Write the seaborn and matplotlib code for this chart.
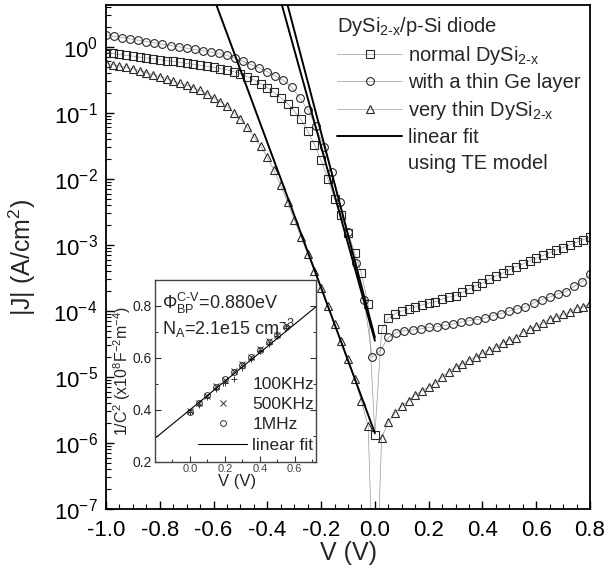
import numpy as np
import pandas as pd
import matplotlib
matplotlib.use("Agg")
import matplotlib.pyplot as plt
import seaborn as sns
from matplotlib.ticker import (LogLocator, MultipleLocator, NullFormatter, FixedLocator,
                               LogFormatterMathtext, FormatStrFormatter)
from matplotlib.lines import Line2D

# ---------------- data ----------------
# bias sweeps (V)
v_sweep_a = np.round(np.arange(-1.0, 0.8 + 1e-9, 0.025), 3)   # normal & very thin
v_sweep_b = np.round(np.arange(-1.0, 0.8 + 1e-9, 0.03), 3)    # thin Ge layer

# log10 |J| (A/cm^2)
logj_normal = [-0.09, -0.10, -0.115, -0.13, -0.14, -0.155, -0.17, -0.18, -0.195, -0.21,
               -0.22, -0.235, -0.25, -0.265, -0.28, -0.295, -0.31, -0.33, -0.35, -0.375,
               -0.41, -0.45, -0.50, -0.56, -0.62, -0.69, -0.77, -0.86, -0.97, -1.10,
               -1.27, -1.48, -1.72, -2.00, -2.30, -2.55, -2.82, -3.12, -3.43, -3.90,
               -5.88,
               -4.28, -4.11, -4.04, -4.00, -3.97, -3.94, -3.91, -3.88, -3.86, -3.82,
               -3.79, -3.77, -3.72, -3.67, -3.62, -3.58, -3.52, -3.47, -3.43, -3.38,
               -3.33, -3.29, -3.24, -3.20, -3.16, -3.12, -3.08, -3.04, -3.00, -2.96,
               -2.92, -2.88]
logj_ge = [0.18, 0.16, 0.14, 0.12, 0.10, 0.08, 0.06, 0.04, 0.02, 0.00,
           -0.02, -0.04, -0.06, -0.08, -0.10, -0.13, -0.17, -0.22, -0.27, -0.32,
           -0.38, -0.44, -0.51, -0.61, -0.77, -0.95, -1.20, -1.52, -1.90, -2.35,
           -2.80, -3.27, -3.83, -4.70,
           -4.60, -4.40, -4.33, -4.30, -4.29, -4.27, -4.25, -4.24, -4.22, -4.20,
           -4.17, -4.15, -4.13, -4.11, -4.07, -4.04, -4.00, -3.97, -3.94, -3.88,
           -3.83, -3.79, -3.74, -3.71, -3.63, -3.56, -3.44]
logj_thin = [-0.24, -0.27, -0.29, -0.31, -0.33, -0.36, -0.39, -0.42, -0.45, -0.48,
             -0.52, -0.55, -0.58, -0.62, -0.66, -0.71, -0.77, -0.83, -0.90, -1.00,
             -1.10, -1.22, -1.36, -1.50, -1.67, -1.87, -2.10, -2.35, -2.62, -2.88,
             -3.14, -3.40, -3.65, -3.92, -4.20, -4.46, -4.73, -5.03, -5.37, -5.75,
             -9.00,
             -5.92, -5.68, -5.55, -5.44, -5.36, -5.27, -5.21, -5.15, -5.09, -5.00,
             -4.92, -4.85, -4.80, -4.74, -4.70, -4.64, -4.59, -4.55, -4.48, -4.44,
             -4.41, -4.32, -4.27, -4.23, -4.18, -4.12, -4.09, -4.05, -4.02, -3.95,
             -3.94, -3.88]

series_labels = ["normal DySi$_{\\mathrm{2\\text{-}x}}$", "with a thin Ge layer",
                 "very thin DySi$_{\\mathrm{2\\text{-}x}}$"]
series_markers = ["s", "o", "^"]

# TE-model linear fits: log10 J = logj0 + slope * V, for V in [v_start, 0]
fit_v_start = [-0.36, -0.34, -0.60]
fit_logj0 = [-4.45, -4.40, -5.85]
fit_slope = [-14.7, -15.5, -11.0]

# inset: 1/C^2 vs V
cv_v = [0.0, 0.05, 0.10, 0.15, 0.20, 0.25, 0.30, 0.35, 0.40, 0.45, 0.50, 0.55]
cv_100k = [0.390, 0.420, 0.450, 0.480, 0.505, 0.520, 0.560, 0.595, 0.625, 0.655, 0.685, 0.715]
cv_500k = [0.395, 0.425, 0.455, 0.490, 0.515, 0.550, 0.575, 0.605, 0.635, 0.665, 0.690, 0.725]
cv_1m = [0.393, 0.425, 0.458, 0.487, 0.517, 0.545, 0.572, 0.602, 0.632, 0.660, 0.688, 0.718]
cv_labels = ["100KHz", "500KHz", "1MHz"]
cv_markers = ["+", "x", "o"]
cv_fit_v = [-0.2, 0.72]
cv_fit_intercept = 0.40
cv_fit_slope = 0.55
cv_xticks = [0.0, 0.2, 0.4, 0.6]

# ---------------- style ----------------
sns.set_theme(style="ticks")
plt.rcParams["font.family"] = ["Liberation Sans", "DejaVu Sans"]
plt.rcParams["mathtext.fontset"] = "custom"
plt.rcParams["mathtext.rm"] = "Liberation Sans"
plt.rcParams["mathtext.it"] = "Liberation Sans:italic"
plt.rcParams["mathtext.bf"] = "Liberation Sans:bold"
plt.rcParams["axes.unicode_minus"] = False

W, H = 607, 568
fig = plt.figure(figsize=(W / 100, H / 100), dpi=100)
fig.patch.set_facecolor("white")

ax = fig.add_axes([106 / W, 1 - 509 / H, 484 / W, 504 / H])
ax.set_facecolor("white")
ax.set_yscale("log")

for v, lj, m, lab in zip([v_sweep_a, v_sweep_b, v_sweep_a],
                         [logj_normal, logj_ge, logj_thin],
                         series_markers, series_labels):
    df = pd.DataFrame({"V": v, "J": 10 ** np.array(lj)})
    sns.lineplot(data=df, x="V", y="J", ax=ax, estimator=None, sort=False,
                 color="#9a9a9a", lw=0.5, marker=m, ms=5.6, mfc="none",
                 mec="#2a2a2a", mew=0.8, label=lab, legend=False)

for i, (vs, b, m) in enumerate(zip(fit_v_start, fit_logj0, fit_slope)):
    vv = np.array([vs, 0.0])
    df = pd.DataFrame({"V": vv, "J": 10 ** (b + m * vv)})
    sns.lineplot(data=df, x="V", y="J", ax=ax, estimator=None, sort=False,
                 color="black", lw=1.4, label="linear fit" if i == 0 else None,
                 legend=False)

ax.set_xlim(-1.0, 0.8)
ax.set_ylim(1e-7, 4.3)
ax.xaxis.set_major_locator(MultipleLocator(0.2))
ax.xaxis.set_minor_locator(MultipleLocator(0.05))
ax.xaxis.set_major_formatter(FormatStrFormatter("%.1f"))
ax.yaxis.set_major_locator(LogLocator(base=10, numticks=20))
ax.yaxis.set_minor_locator(LogLocator(base=10, subs=np.arange(2, 10), numticks=20))
ax.yaxis.set_major_formatter(LogFormatterMathtext())
ax.yaxis.set_minor_formatter(NullFormatter())
ax.tick_params(which="both", direction="in", top=False, right=False, colors="black")
ax.tick_params(which="major", length=6, width=1.0, labelsize=16, pad=6)
ax.tick_params(axis="x", which="major", pad=8)
ax.tick_params(which="minor", length=3.5, width=0.8)
for s in ax.spines.values():
    s.set_color("black")
    s.set_linewidth(1.3)

ax.set_xlabel("V (V)", fontsize=18)
ax.set_ylabel("|J| (A/cm$^2$)", fontsize=18)
ax.xaxis.set_label_coords(0.5, -(541 - 509) / 504)
ax.yaxis.set_label_coords(-(106 - 38) / 484, 0.5)

handles, labels = ax.get_legend_handles_labels()
handles.append(Line2D([], [], ls="none"))
labels.append("using TE model")
leg = ax.legend(handles=handles, labels=labels,
                title="DySi$_{\\mathrm{2\\text{-}x}}$/p-Si diode",
                loc="upper left", bbox_to_anchor=(0.478, 0.981), frameon=False,
                alignment="left", handlelength=3.2, numpoints=1, fontsize=14.5,
                title_fontsize=14.5, labelspacing=0.32, handletextpad=0.3,
                borderpad=0, borderaxespad=0)

# ---------------- inset ----------------
ax_in = fig.add_axes([155 / W, 1 - 461.7 / H, 160.7 / W, 181.7 / H])
ax_in.set_facecolor("white")
for vals, lab, m in zip([cv_100k, cv_500k, cv_1m], cv_labels, cv_markers):
    df = pd.DataFrame({"V": cv_v, "C": vals})
    kw = dict(mfc="none") if m == "o" else {}
    sns.lineplot(data=df, x="V", y="C", ax=ax_in, estimator=None, sort=False,
                 ls="none", marker=m, ms=4.2, mec="#333333", mew=0.7,
                 color="#333333", label=lab, legend=False, **kw)
fv = np.array(cv_fit_v)
df = pd.DataFrame({"V": fv, "C": cv_fit_intercept + cv_fit_slope * fv})
sns.lineplot(data=df, x="V", y="C", ax=ax_in, estimator=None, sort=False,
             color="black", lw=0.8, label="linear fit", legend=False)

ax_in.set_xlim(-0.2, 0.72)
ax_in.set_ylim(0.2, 0.9)
ax_in.xaxis.set_major_locator(FixedLocator(cv_xticks))
ax_in.xaxis.set_minor_locator(MultipleLocator(0.1))
ax_in.yaxis.set_major_locator(MultipleLocator(0.2))
ax_in.yaxis.set_minor_locator(MultipleLocator(0.1))
ax_in.xaxis.set_major_formatter(FormatStrFormatter("%.1f"))
ax_in.yaxis.set_major_formatter(FormatStrFormatter("%.1f"))
ax_in.tick_params(which="both", direction="in", top=False, right=True, colors="#333333")
ax_in.tick_params(which="major", length=4, width=0.8, pad=2)
ax_in.tick_params(which="minor", length=2.5, width=0.7)
ax_in.tick_params(axis="x", labelsize=8, labelcolor="#444444")
ax_in.tick_params(axis="y", labelsize=10, labelcolor="#222222")
for s in ax_in.spines.values():
    s.set_color("#444444")
    s.set_linewidth(1.0)
ax_in.set_xlabel("V (V)", fontsize=12)
ax_in.set_ylabel("1/C$^2$ (x10$^8$F$^{-2}$m$^{-4}$)", fontsize=11.5)
ax_in.xaxis.set_label_coords(0.51, -(474 - 461.7) / 181.7)
ax_in.yaxis.set_label_coords(-(155 - 133) / 160.7, 0.5)

ax_in.text(0.044, 0.873, "$\\Phi_{\\mathrm{BP}}^{\\mathrm{C\\text{-}V}}$=0.880eV",
           transform=ax_in.transAxes, fontsize=13, va="center", ha="left")
ax_in.text(0.044, 0.736, "N$_\\mathrm{A}$=2.1e15 cm$^{-3}$",
           transform=ax_in.transAxes, fontsize=13, va="center", ha="left")

h2, l2 = ax_in.get_legend_handles_labels()
ax_in.legend(handles=h2, labels=l2, loc="lower right", bbox_to_anchor=(1.0, 0.04),
             frameon=False, fontsize=12.5, handlelength=2.8, numpoints=1,
             labelspacing=0.3, handletextpad=0.3, borderpad=0, borderaxespad=0.1)

fig.savefig("out.png", dpi=100, facecolor="white")
